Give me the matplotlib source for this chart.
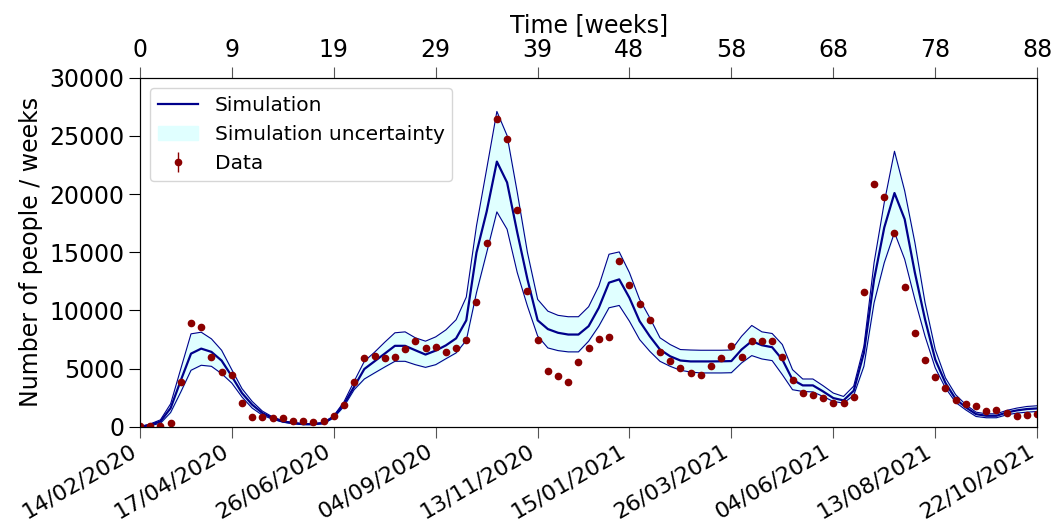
import numpy as np
import matplotlib
matplotlib.use("Agg")
from matplotlib import pyplot as plt

# weeks since 14/02/2020
weeks = np.arange(0, 89)

# weekly data
data = [50, 100, 100, 300, 3850, 8880, 8560, 6030, 4680, 4450,
        2010, 860, 860, 780, 780, 520, 520, 400, 460, 950,
        1840, 3880, 5950, 6090, 5920, 6000, 6720, 7360, 6810, 6900,
        6410, 6780, 7470, 10690, 15780, 26490, 24740, 18650, 11700, 7440,
        4780, 4330, 3850, 5580, 6780, 7560, 7730, 14220, 12160, 10540,
        9160, 6410, 5660, 5060, 4660, 4440, 5230, 5890, 6920, 6010,
        7360, 7360, 7360, 5980, 4020, 2870, 2730, 2440, 2070, 2040,
        2600, 11610, 20860, 19710, 16670, 12040, 8080, 5750, 4280, 3360,
        2330, 1980, 1750, 1350, 1470, 1230, 920, 1030, 1120]

# simulation (mean, upper and lower band)
sim_mean = [0, 170, 460, 1610, 4000, 6290, 6720, 6440, 5690, 4340,
            2900, 1900, 1180, 750, 460, 320, 230, 230, 320, 860,
            1950, 3450, 4970, 5630, 6290, 6960, 6960, 6580, 6210, 6550,
            7000, 7600, 9150, 14970, 18500, 22790, 21000, 16700, 12670, 9150,
            8400, 8080, 7930, 7930, 8650, 10230, 12390, 12670, 11090, 9080,
            7780, 6640, 6060, 5700, 5620, 5620, 5620, 5630, 5650, 6640,
            7360, 7010, 6840, 5780, 4050, 3560, 3560, 3040, 2470, 2270,
            3100, 6350, 12670, 17130, 20090, 17840, 13250, 9220, 5780, 3770,
            2390, 1670, 1090, 950, 950, 1230, 1410, 1530, 1580]

sim_upper = [0, 250, 600, 1980, 5000, 7990, 8130, 7560, 6580, 4910,
             3280, 2180, 1350, 850, 530, 370, 280, 280, 380, 950,
             2150, 3910, 5630, 6410, 7270, 8080, 8160, 7650, 7360, 7730,
             8330, 9200, 11150, 17270, 22160, 27100, 25030, 20150, 14970, 10950,
             9940, 9580, 9460, 9460, 10320, 12100, 14830, 15030, 13250, 10950,
             9370, 7650, 7070, 6640, 6600, 6580, 6580, 6580, 6600, 7780,
             8710, 8160, 8020, 7070, 4910, 4110, 4110, 3530, 2900, 2610,
             3500, 6920, 14110, 19280, 23680, 20280, 15840, 10660, 6640, 4200,
             2760, 1900, 1260, 1120, 1120, 1410, 1610, 1750, 1810]

sim_lower = [0, 100, 300, 1230, 3000, 4860, 5290, 5200, 4570, 3760,
             2560, 1610, 1000, 650, 400, 270, 190, 190, 270, 780,
             1750, 3190, 4110, 4630, 5140, 5630, 5630, 5340, 5110, 5340,
             5850, 6350, 7430, 11530, 14970, 18470, 16980, 13250, 10370, 7800,
             6780, 6550, 6440, 6440, 7360, 8650, 10230, 10430, 9080, 7500,
             6490, 5630, 5200, 4860, 4710, 4630, 4630, 4630, 4650, 5490,
             6120, 5830, 5690, 4480, 3190, 3040, 3000, 2610, 2180, 2040,
             2700, 5200, 10660, 14110, 16700, 14400, 10950, 7780, 5060, 3340,
             2100, 1450, 890, 780, 780, 1030, 1180, 1260, 1320]

# tick positions and labels
tick_weeks = [0, 9, 19, 29, 39, 48, 58, 68, 78, 88]
tick_dates = ["14/02/2020", "17/04/2020", "26/06/2020", "04/09/2020", "13/11/2020",
              "15/01/2021", "26/03/2021", "04/06/2021", "13/08/2021", "22/10/2021"]

# Poisson-like uncertainty on the data
data_err = np.sqrt(data)

fig = plt.figure(figsize=(10.53, 5.25), dpi=100)
ax = fig.add_subplot(111)
plt.subplots_adjust(left=0.133, right=0.985, bottom=0.187, top=0.852)

ax.plot(weeks, sim_mean, color="darkblue", lw=1.6, label="Simulation", zorder=3)
ax.fill_between(weeks, sim_lower, sim_upper, color="lightcyan",
                label="Simulation uncertainty", zorder=1)
ax.plot(weeks, sim_upper, color="darkblue", lw=0.8, zorder=2)
ax.plot(weeks, sim_lower, color="darkblue", lw=0.8, zorder=2)
ax.errorbar(weeks, data, yerr=data_err, fmt="o", color="darkred", ms=4.5,
            elinewidth=1, label="Data", zorder=4)

ax.set_xlim(0, 88)
ax.set_ylim(0, 30000)
ax.set_yticks(range(0, 30001, 5000))
ax.set_xticks(tick_weeks)
ax.set_xticklabels(tick_dates, rotation=30, ha="right")
ax.tick_params(axis="y", labelsize=17, length=8, direction="out")
ax.tick_params(axis="x", labelsize=16, length=8, pad=2, colors="#555555", labelcolor="black")
ax.set_ylabel("Number of people / weeks", fontsize=17)

# top axis in weeks
ax2 = ax.twiny()
ax2.set_xlim(0, 88)
ax2.set_xticks(tick_weeks)
ax2.set_xticklabels([str(w) for w in tick_weeks])
ax2.tick_params(axis="x", labelsize=17, length=8, colors="#555555", labelcolor="black")
ax2.set_xlabel("Time [weeks]", fontsize=17)

h, l = ax.get_legend_handles_labels()
order = [l.index("Simulation"), l.index("Simulation uncertainty"), l.index("Data")]
ax.legend([h[i] for i in order], [l[i] for i in order], loc="upper left", fontsize=14.5)

plt.savefig("out.png", dpi=100)
